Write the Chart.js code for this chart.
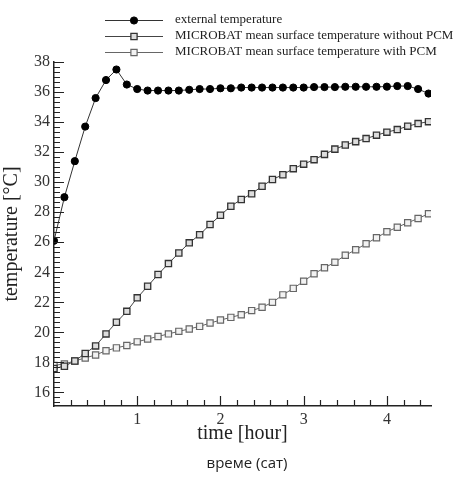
<!DOCTYPE html>
<html>
<head>
<meta charset="utf-8">
<script src="https://cdn.jsdelivr.net/npm/chart.js@4/dist/chart.umd.min.js"></script>
<style>
  html, body { margin: 0; padding: 0; background: #fff; }
  #wrap { position: relative; width: 464px; height: 479px; }
  #note {
    position: absolute; left: 0; width: 494px; top: 452px;
    text-align: center; font-family: "Open Sans", sans-serif; font-size: 15px; color: #222;
  }
</style>
</head>
<body>
<div id="wrap">
  <canvas id="myChart" width="464" height="479"></canvas>
  <div id="note">време (сат)</div>
</div>
<script>
// time step 0.125 h (7.5 min), 0 .. 4.5
const hours = [0, 0.125, 0.25, 0.375, 0.5, 0.625, 0.75, 0.875, 1, 1.125, 1.25, 1.375, 1.5, 1.625, 1.75, 1.875,
  2, 2.125, 2.25, 2.375, 2.5, 2.625, 2.75, 2.875, 3, 3.125, 3.25, 3.375, 3.5, 3.625, 3.75, 3.875,
  4, 4.125, 4.25, 4.375, 4.5];

const externalTemp = [26.1, 29.0, 31.4, 33.7, 35.6, 36.8, 37.5, 36.5, 36.2, 36.1, 36.1, 36.1, 36.1, 36.15,
  36.2, 36.2, 36.25, 36.25, 36.3, 36.3, 36.3, 36.3, 36.3, 36.3, 36.3, 36.33, 36.33, 36.33, 36.35,
  36.35, 36.35, 36.35, 36.36, 36.4, 36.4, 36.2, 35.9];

const withoutPCM = [17.6, 17.75, 18.1, 18.6, 19.1, 19.9, 20.67, 21.4, 22.3, 23.07, 23.85, 24.58, 25.29,
  25.96, 26.5, 27.18, 27.8, 28.4, 28.85, 29.23, 29.73, 30.18, 30.5, 30.9, 31.2, 31.5, 31.85, 32.2,
  32.47, 32.7, 32.9, 33.13, 33.33, 33.5, 33.73, 33.9, 34.03];

const withPCM = [17.8, 17.9, 18.1, 18.3, 18.5, 18.78, 18.97, 19.13, 19.37, 19.56, 19.73, 19.9, 20.07,
  20.23, 20.4, 20.62, 20.82, 21.0, 21.18, 21.45, 21.67, 22.0, 22.5, 22.93, 23.4, 23.9, 24.3, 24.67,
  25.13, 25.5, 25.9, 26.3, 26.7, 27.0, 27.3, 27.58, 27.9];

const seriesNames = ['external temperature',
  'MICROBAT mean surface temperature without PCM',
  'MICROBAT mean surface temperature with PCM'];

const xMajorTicks = [1, 2, 3, 4];
const yMajorTicks = [16, 18, 20, 22, 24, 26, 28, 30, 32, 34, 36, 38];

const serif = '"Liberation Serif", "Times New Roman", serif';

function pts(ys) {
  return ys.map((y, i) => ({ x: hours[i], y: y }));
}

// ticks: majors + minors (x every 0.2, y every 1/3)
function xTickValues() {
  let out = [];
  for (let i = 1; i <= 22; i++) out.push(Math.round(i * 0.2 * 10) / 10);
  return out;
}
function yTickValues() {
  let out = [];
  for (let i = 0; i <= 68; i++) out.push(15.333333 + i / 3);
  return out.filter(v => v <= 38.01);
}
function isMajor(list, v) {
  return list.some(m => Math.abs(m - v) < 0.01);
}

// inward tick marks, drawn from the scales
const inwardTicks = {
  id: 'inwardTicks',
  afterDatasetsDraw(chart) {
    const ctx = chart.ctx;
    const xs = chart.scales.x, ys = chart.scales.y;
    ctx.save();
    ctx.strokeStyle = '#222';
    ctx.lineWidth = 1.2;
    ctx.beginPath();
    xs.ticks.forEach(t => {
      const px = Math.round(xs.getPixelForValue(t.value)) + 0.5;
      const len = isMajor(xMajorTicks, t.value) ? 10 : 6;
      ctx.moveTo(px, xs.top);
      ctx.lineTo(px, xs.top - len);
    });
    ys.ticks.forEach(t => {
      const py = Math.round(ys.getPixelForValue(t.value)) + 0.5;
      const len = isMajor(yMajorTicks, t.value) ? 10 : 6;
      ctx.moveTo(ys.right, py);
      ctx.lineTo(ys.right + len, py);
    });
    ctx.stroke();
    ctx.restore();
  }
};

// legend like the original: short line with marker, then text
const lineLegend = {
  id: 'lineLegend',
  afterDraw(chart) {
    const ctx = chart.ctx;
    const x0 = 105, x1 = 163, tx = 175;
    const rows = [20, 36, 52];
    ctx.save();
    chart.data.datasets.forEach((ds, i) => {
      const y = rows[i];
      ctx.strokeStyle = ds.borderColor;
      ctx.lineWidth = 1;
      ctx.beginPath();
      ctx.moveTo(x0, y + 0.5);
      ctx.lineTo(x1, y + 0.5);
      ctx.stroke();
      ctx.fillStyle = ds.pointBackgroundColor;
      ctx.strokeStyle = ds.pointBorderColor;
      ctx.lineWidth = ds.pointBorderWidth;
      Chart.helpers.drawPoint(ctx, {
        pointStyle: ds.pointStyle,
        radius: ds.pointRadius,
        borderWidth: ds.pointBorderWidth
      }, (x0 + x1) / 2, y + 0.5);
      ctx.fillStyle = '#222';
      ctx.font = '13px ' + serif;
      ctx.textBaseline = 'middle';
      ctx.textAlign = 'left';
      ctx.fillText(ds.label, tx, y);
    });
    ctx.restore();
  }
};

const ctx = document.getElementById('myChart');

new Chart(ctx, {
  type: 'line',
  data: {
    datasets: [
      {
        label: seriesNames[0],
        data: pts(externalTemp),
        borderColor: '#333',
        borderWidth: 1,
        pointStyle: 'circle',
        pointRadius: 3.6,
        pointBackgroundColor: '#000',
        pointBorderColor: '#000',
        pointBorderWidth: 1
      },
      {
        label: seriesNames[1],
        data: pts(withoutPCM),
        borderColor: '#444',
        borderWidth: 1,
        pointStyle: 'rect',
        pointRadius: 4.4,
        pointBackgroundColor: '#ddd',
        pointBorderColor: '#333',
        pointBorderWidth: 1.3
      },
      {
        label: seriesNames[2],
        data: pts(withPCM),
        borderColor: '#666',
        borderWidth: 1,
        pointStyle: 'rect',
        pointRadius: 4.4,
        pointBackgroundColor: '#f2f2f2',
        pointBorderColor: '#666',
        pointBorderWidth: 1.2
      }
    ]
  },
  options: {
    responsive: false,
    animation: false,
    layout: { padding: { left: 0, right: 33, top: 62, bottom: 29 } },
    plugins: {
      legend: { display: false },
      tooltip: { enabled: false }
    },
    scales: {
      x: {
        type: 'linear',
        min: 0,
        max: 4.53,
        afterBuildTicks: s => { s.ticks = xTickValues().map(v => ({ value: v })); },
        afterFit: s => { s.height = 44; },
        grid: { display: true, drawOnChartArea: false, drawTicks: false },
        border: { display: true, color: '#222', width: 1.5 },
        ticks: {
          autoSkip: false,
          maxRotation: 0,
          padding: 4,
          color: '#333',
          font: { family: serif, size: 16 },
          callback: v => isMajor(xMajorTicks, v) ? String(Math.round(v)) : ''
        },
        title: {
          display: true,
          text: 'time [hour]',
          color: '#222',
          font: { family: serif, size: 20 },
          padding: { top: 0, bottom: 4 }
        }
      },
      y: {
        type: 'linear',
        min: 15.1,
        max: 38,
        afterBuildTicks: s => { s.ticks = yTickValues().map(v => ({ value: v })); },
        afterFit: s => { s.width = 54; },
        grid: { display: true, drawOnChartArea: false, drawTicks: false },
        border: { display: true, color: '#222', width: 1.5 },
        ticks: {
          autoSkip: false,
          padding: 4,
          color: '#333',
          font: { family: serif, size: 16 },
          callback: v => isMajor(yMajorTicks, v) ? String(Math.round(v)) : ''
        },
        title: {
          display: true,
          text: 'temperature [°C]',
          color: '#222',
          font: { family: serif, size: 20 },
          padding: { top: 0, bottom: 0 }
        }
      }
    }
  },
  plugins: [inwardTicks, lineLegend]
});
</script>
</body>
</html>
